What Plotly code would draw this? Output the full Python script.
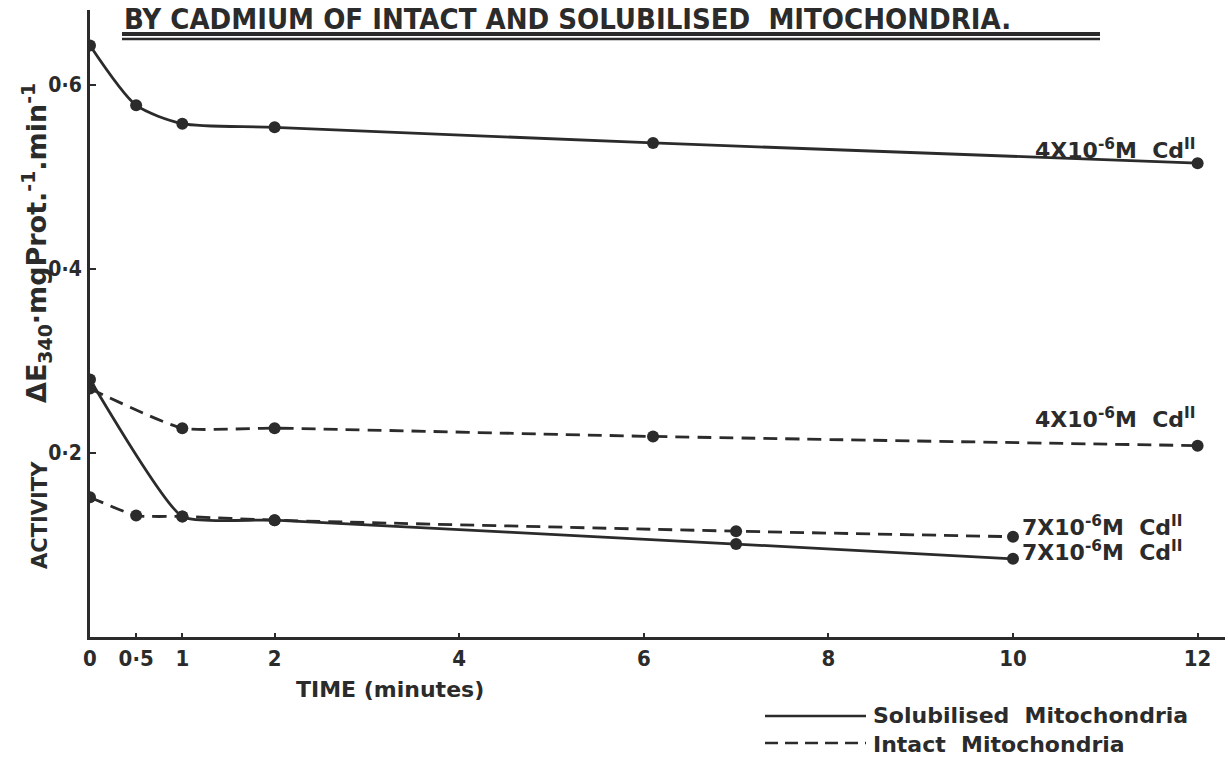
import plotly.graph_objects as go

# ---- data ----
sol4_x = [0, 0.5, 1, 2, 6.1, 12]
sol4_y = [0.643, 0.578, 0.558, 0.554, 0.537, 0.515]

int4_x = [0, 1, 2, 6.1, 12]
int4_y = [0.270, 0.227, 0.227, 0.218, 0.208]

sol7_x = [0, 1, 2, 7, 10]
sol7_y = [0.280, 0.131, 0.127, 0.101, 0.085]

int7_x = [0, 0.5, 1, 2, 7, 10]
int7_y = [0.152, 0.132, 0.131, 0.127, 0.115, 0.109]

x_tickvals = [0, 0.5, 1, 2, 4, 6, 8, 10, 12]
x_ticktext = ["0", "0·5", "1", "2", "4", "6", "8", "10", "12"]
y_tickvals = [0.2, 0.4, 0.6]
y_ticktext = ["0·2", "0·4", "0·6"]

title_text = "BY CADMIUM OF INTACT AND SOLUBILISED  MITOCHONDRIA."
series_labels = {
    "sol4": "4X10<sup>-6</sup>M  Cd<sup>II</sup>",
    "int4": "4X10<sup>-6</sup>M  Cd<sup>II</sup>",
    "int7": "7X10<sup>-6</sup>M  Cd<sup>II</sup>",
    "sol7": "7X10<sup>-6</sup>M  Cd<sup>II</sup>",
}
legend_names = ["Solubilised  Mitochondria", "Intact  Mitochondria"]

INK = "#2b2b2b"
FONT = "DejaVu Sans, sans-serif"
FONT_C = "DejaVu Sans Condensed, DejaVu Sans, sans-serif"

# ---- layout geometry (pixels) ----
W, H = 1228, 761
L, R, T, B = 90, 3, 10, 124
PW, PH = W - L - R, H - T - B


def px(xp):
    return (xp - L) / PW


def py(yp):
    return 1 - (yp - T) / PH


fig = go.Figure()

line_w = 2.8
mk = dict(size=12, color=INK)
DASH = "14px,8px"


def add(xs, ys, dash, sm):
    fig.add_trace(go.Scatter(
        x=xs, y=ys, mode="lines+markers",
        line=dict(color=INK, width=line_w, dash=dash, shape="spline", smoothing=sm),
        marker=mk, showlegend=False, hoverinfo="skip"))


add(sol4_x, sol4_y, "solid", 0.7)
add(int4_x, int4_y, DASH, 0.5)
add(int7_x, int7_y, DASH, 0.5)
add(sol7_x, sol7_y, "solid", 0.45)

annots = []
sfs = 22
sfont = dict(size=sfs, color=INK, family=FONT, weight="bold")
annots.append(dict(x=12, y=0.530, xref="x", yref="y", text=series_labels["sol4"],
                   xanchor="right", yanchor="middle", showarrow=False, font=sfont))
annots.append(dict(x=12, y=0.238, xref="x", yref="y", text=series_labels["int4"],
                   xanchor="right", yanchor="middle", showarrow=False, font=sfont))
annots.append(dict(x=10.08, y=0.121, xref="x", yref="y", text=series_labels["int7"],
                   xanchor="left", yanchor="middle", showarrow=False, font=sfont))
annots.append(dict(x=10.08, y=0.093, xref="x", yref="y", text=series_labels["sol7"],
                   xanchor="left", yanchor="middle", showarrow=False, font=sfont))

# title
annots.append(dict(x=px(122), y=py(0), xref="paper", yref="paper", text=title_text,
                   xanchor="left", yanchor="top", showarrow=False,
                   font=dict(size=29, color=INK, family=FONT_C, weight="bold")))
# y-axis title (two parts)
annots.append(dict(x=px(40), y=py(515), xref="paper", yref="paper",
                   text="ACTIVITY",
                   textangle=-90, xanchor="center", yanchor="middle", showarrow=False,
                   font=dict(size=21, color=INK, family=FONT, weight="bold")))
annots.append(dict(x=px(36), y=py(243), xref="paper", yref="paper",
                   text="ΔE<sub>340</sub>·mgProt.<sup>-1</sup>.min<sup>-1</sup>",
                   textangle=-90, xanchor="center", yanchor="middle", showarrow=False,
                   font=dict(size=27, color=INK, family=FONT, weight="bold")))
# x-axis title
annots.append(dict(x=px(390), y=py(689), xref="paper", yref="paper",
                   text="TIME (minutes)", xanchor="center", yanchor="middle", showarrow=False,
                   font=dict(size=22, color=INK, family=FONT, weight="bold")))
# legend text (one block, two lines)
lfont = dict(size=22, color=INK, family=FONT, weight="bold")
annots.append(dict(x=px(871), y=py(729.5), xref="paper", yref="paper",
                   text=legend_names[0] + "<br>" + legend_names[1], align="left",
                   xanchor="left", yanchor="middle", showarrow=False, font=lfont))

shapes = [
    dict(type="line", xref="paper", yref="paper", x0=px(122), x1=px(1100), y0=py(34), y1=py(34),
         line=dict(color=INK, width=4)),
    dict(type="line", xref="paper", yref="paper", x0=px(122), x1=px(1100), y0=py(39), y1=py(39),
         line=dict(color=INK, width=2.5)),
    dict(type="line", xref="paper", yref="paper", x0=px(765), x1=px(866), y0=py(716), y1=py(716),
         line=dict(color=INK, width=2.5)),
    dict(type="line", xref="paper", yref="paper", x0=px(765), x1=px(866), y0=py(743), y1=py(743),
         line=dict(color=INK, width=2.5, dash="13px,7px")),
]

fig.update_layout(
    width=W, height=H,
    margin=dict(l=L, r=R, t=T, b=B, pad=0),
    paper_bgcolor="white", plot_bgcolor="white",
    annotations=annots, shapes=shapes,
    font=dict(family=FONT, color=INK),
    xaxis=dict(range=[0, (W - R - L) / 92.3], tickvals=x_tickvals, ticktext=x_ticktext,
               showgrid=False, zeroline=False, showline=True, linecolor=INK, linewidth=3,
               ticks="inside", ticklen=4, tickwidth=2, tickcolor=INK,
               tickfont=dict(size=22, color=INK, family=FONT_C, weight="bold")),
    yaxis=dict(range=[0, (H - B - T) / 920], tickvals=y_tickvals, ticktext=y_ticktext,
               showgrid=False, zeroline=False, showline=True, linecolor=INK, linewidth=3,
               ticks="inside", ticklen=6, tickwidth=2, tickcolor=INK,
               ticklabelstandoff=1,
               tickfont=dict(size=21, color=INK, family=FONT_C, weight="bold")),
)

fig.write_html("out.html")
